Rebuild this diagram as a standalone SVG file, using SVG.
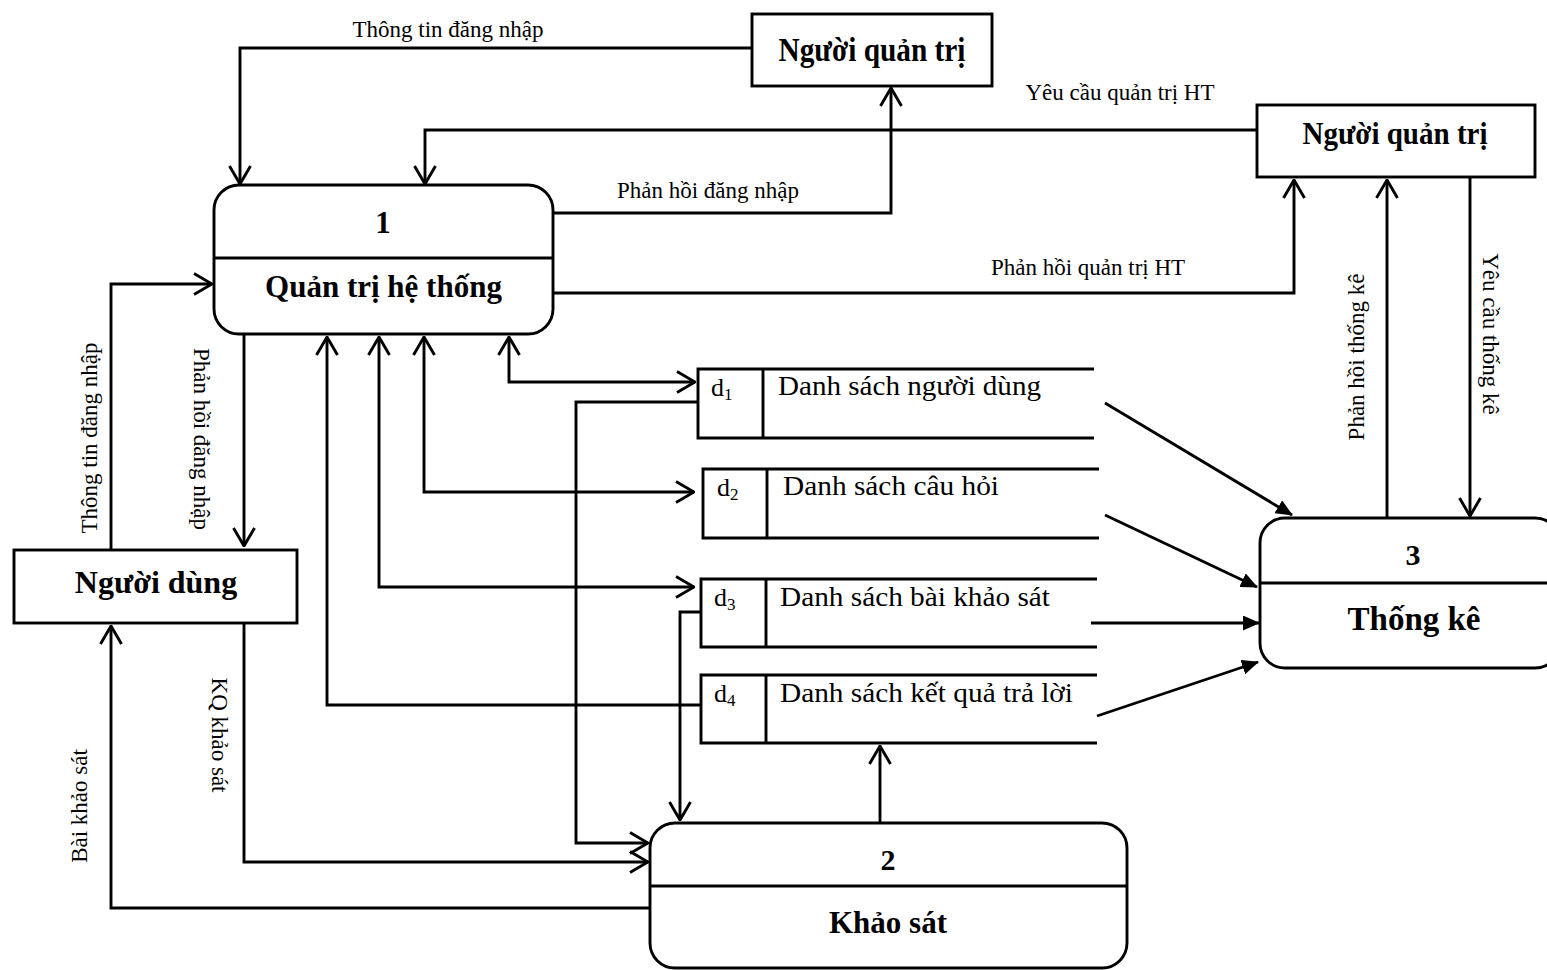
<svg xmlns="http://www.w3.org/2000/svg" width="1547" height="970" viewBox="0 0 1547 970">
  <style>
    .shape { fill: #ffffff; stroke: #000000; stroke-width: 2.9; }
    .edge { fill: none; stroke: #000000; stroke-width: 2.9; }
    .title { font-family: "Liberation Serif", "Times New Roman", serif; font-weight: bold; fill: #000000; text-anchor: middle; }
    .label { font-family: "Liberation Serif", "Times New Roman", serif; font-size: 23px; fill: #000000; text-anchor: middle; }
    .vlabel { font-family: "Liberation Serif", "Times New Roman", serif; font-size: 23px; fill: #000000; text-anchor: middle; dominant-baseline: central; }
    .store { font-family: "Liberation Serif", "Times New Roman", serif; font-size: 28px; fill: #000000; }
    .sid { font-family: "Liberation Serif", "Times New Roman", serif; font-size: 26px; fill: #000000; }
  </style>
  <defs>
    <marker id="open" markerUnits="userSpaceOnUse" viewBox="0 0 20 24" refX="19" refY="12" markerWidth="20" markerHeight="24" orient="auto-start-reverse">
      <path d="M1,1.5 L19,12 L1,22.5" fill="none" stroke="#000" stroke-width="2.9"/>
    </marker>
    <marker id="solid" markerUnits="userSpaceOnUse" viewBox="0 0 17 15" refX="16" refY="7.5" markerWidth="17" markerHeight="15" orient="auto">
      <path d="M0,0 L17,7.5 L0,15 z" fill="#000"/>
    </marker>
  </defs>

  <!-- external entities -->
  <g id="admin-top">
    <rect class="shape" x="752" y="14" width="240" height="72"/>
    <text class="title" x="872" y="61" font-size="33" textLength="187" lengthAdjust="spacingAndGlyphs">Người quản trị</text>
  </g>
  <g id="admin-right">
    <rect class="shape" x="1257" y="105" width="278" height="72"/>
    <text class="title" x="1395" y="144" font-size="31" textLength="185" lengthAdjust="spacingAndGlyphs">Người quản trị</text>
  </g>
  <g id="user">
    <rect class="shape" x="14" y="550" width="283" height="73"/>
    <text class="title" x="156" y="593" font-size="32">Người dùng</text>
  </g>

  <!-- processes -->
  <g id="process-1">
    <rect class="shape" x="214" y="185" width="339" height="149" rx="25" ry="25"/>
    <line class="edge" x1="214" y1="258" x2="553" y2="258"/>
    <text class="title" x="383" y="233" font-size="31">1</text>
    <text class="title" x="383.5" y="297" font-size="31">Quản trị hệ thống</text>
  </g>
  <g id="process-2">
    <rect class="shape" x="650" y="823" width="477" height="145" rx="25" ry="25"/>
    <line class="edge" x1="650" y1="886" x2="1127" y2="886"/>
    <text class="title" x="888" y="870" font-size="30">2</text>
    <text class="title" x="888" y="933" font-size="31">Khảo sát</text>
  </g>
  <g id="process-3">
    <rect class="shape" x="1260" y="518" width="300" height="150" rx="25" ry="25"/>
    <line class="edge" x1="1260" y1="583" x2="1560" y2="583"/>
    <text class="title" x="1413" y="565" font-size="30">3</text>
    <text class="title" x="1414" y="630" font-size="33">Thống kê</text>
  </g>

  <!-- data stores -->
  <g id="store-d1">
    <path class="edge" d="M1094,369 H698 V438 H1094 M763,369 V438"/>
    <text class="sid" x="711" y="396">d<tspan font-size="17" dy="4">1</tspan></text>
    <text class="store" x="778" y="395" textLength="263" lengthAdjust="spacingAndGlyphs">Danh sách người dùng</text>
  </g>
  <g id="store-d2">
    <path class="edge" d="M1099,469 H703 V538 H1099 M767,469 V538"/>
    <text class="sid" x="717" y="496">d<tspan font-size="17" dy="4">2</tspan></text>
    <text class="store" x="783" y="495" textLength="216" lengthAdjust="spacingAndGlyphs">Danh sách câu hỏi</text>
  </g>
  <g id="store-d3">
    <path class="edge" d="M1097,579 H701 V647 H1097 M766,579 V647"/>
    <text class="sid" x="714" y="606">d<tspan font-size="17" dy="4">3</tspan></text>
    <text class="store" x="780" y="606" textLength="270" lengthAdjust="spacingAndGlyphs">Danh sách bài khảo sát</text>
  </g>
  <g id="store-d4">
    <path class="edge" d="M1097,675 H701 V743 H1097 M766,675 V743"/>
    <text class="sid" x="714" y="702">d<tspan font-size="17" dy="4">4</tspan></text>
    <text class="store" x="780" y="702" textLength="293" lengthAdjust="spacingAndGlyphs">Danh sách kết quả trả lời</text>
  </g>

  <!-- data flows -->
  <g id="connectors">
    <path class="edge" marker-end="url(#open)" d="M752,48 H240 V184"/>
    <path class="edge" marker-end="url(#open)" d="M1257,130 H425 V184"/>
    <path class="edge" marker-end="url(#open)" d="M553,213 H891 V88"/>
    <path class="edge" marker-end="url(#open)" d="M553,293 H1294 V180"/>
    <path class="edge" marker-end="url(#open)" d="M1387,518 V180"/>
    <path class="edge" marker-end="url(#open)" d="M1470,177 V516"/>
    <path class="edge" marker-end="url(#open)" d="M111,550 V284 H212"/>
    <path class="edge" marker-end="url(#open)" d="M244,334 V546"/>
    <path class="edge" marker-end="url(#open)" d="M650,908 H111 V626"/>
    <path class="edge" marker-end="url(#open)" d="M244,623 V862 H648"/>
    <path class="edge" marker-start="url(#open)" marker-end="url(#open)" d="M509,337 V382 H695"/>
    <path class="edge" marker-start="url(#open)" marker-end="url(#open)" d="M424,337 V492 H694"/>
    <path class="edge" marker-start="url(#open)" marker-end="url(#open)" d="M379,337 V587 H694"/>
    <path class="edge" marker-end="url(#open)" d="M701,705 H327 V337"/>
    <path class="edge" marker-end="url(#open)" d="M698,402 H576 V843 H648"/>
    <path class="edge" marker-end="url(#open)" d="M701,612 H680 V820"/>
    <path class="edge" marker-end="url(#open)" d="M880,823 V746"/>
    <path class="edge" marker-end="url(#solid)" d="M1105,403 L1292,515"/>
    <path class="edge" marker-end="url(#solid)" d="M1105,515 L1257,587"/>
    <path class="edge" marker-end="url(#solid)" d="M1091,623 H1259"/>
    <path class="edge" marker-end="url(#solid)" d="M1097,716 L1258,662"/>
  </g>

  <!-- flow labels -->
  <g id="flow-labels">
    <text class="label" x="448" y="37">Thông tin đăng nhập</text>
    <text class="label" x="1120" y="100">Yêu cầu quản trị HT</text>
    <text class="label" x="708" y="198">Phản hồi đăng nhập</text>
    <text class="label" x="1088" y="275">Phản hồi quản trị HT</text>
    <text class="vlabel" transform="translate(1356,357) rotate(-90)">Phản hồi thống kê</text>
    <text class="vlabel" transform="translate(1490,334) rotate(90)">Yêu cầu thống kê</text>
    <text class="vlabel" transform="translate(89,438) rotate(-90)">Thông tin đăng nhập</text>
    <text class="vlabel" transform="translate(201,439) rotate(90)">Phản hồi đăng nhập</text>
    <text class="vlabel" transform="translate(79,806) rotate(-90)">Bài khảo sát</text>
    <text class="vlabel" transform="translate(219,735) rotate(90)">KQ khảo sát</text>
  </g>
</svg>
